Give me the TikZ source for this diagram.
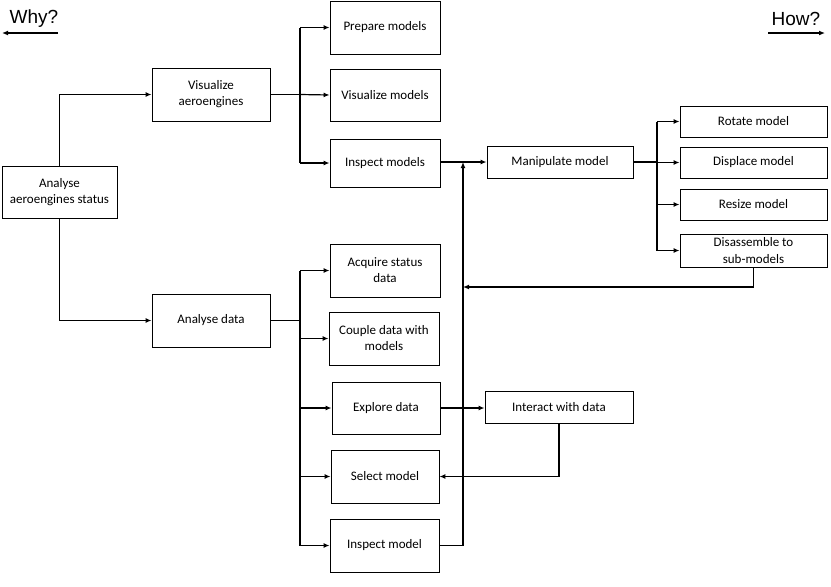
\documentclass[tikz,border=0pt]{standalone}
\usepackage{fontspec}
\setmainfont{Carlito}
\newfontfamily\arialf{Liberation Sans}
\usetikzlibrary{arrows.meta}
\begin{document}
\begin{tikzpicture}[x=1pt,y=-1pt,
  box/.style={draw=black,line width=0.9pt,fill=white,inner sep=1pt,align=center,
    font=\fontsize{13}{16}\selectfont},
  conn/.style={line width=1.2pt,draw=black},
  arr/.style={conn,-{Latex[length=6pt,width=5pt]}},
  hdr/.style={font=\arialf\fontsize{19}{22}\selectfont,inner sep=0pt}]
\useasboundingbox (0,0) rectangle (831,587);
% nodes
\node[box,minimum width=115pt,minimum height=52pt] (status) at (59.5,192) {Analyse\\aeroengines status};
\node[box,minimum width=118pt,minimum height=53pt] (visA) at (211,94.5) {Visualize\\aeroengines};
\node[box,minimum width=118pt,minimum height=53pt] (anad) at (211,320.5) {Analyse data};
\node[box,minimum width=110pt,minimum height=53pt] (prep) at (385,27.5) {Prepare models};
\node[box,minimum width=110pt,minimum height=52pt] (vism) at (385,95) {Visualize models};
\node[box,minimum width=110pt,minimum height=48pt] (insps) at (385,163) {Inspect models};
\node[box,minimum width=146pt,minimum height=32pt] (manip) at (560,162) {Manipulate model};
\node[box,minimum width=147pt,minimum height=31pt] (rot) at (753.5,121.5) {Rotate model};
\node[box,minimum width=147pt,minimum height=31pt] (disp) at (753.5,162.5) {Displace model};
\node[box,minimum width=147pt,minimum height=31pt] (resz) at (753.5,204.5) {Resize model};
\node[box,minimum width=147pt,minimum height=33pt,font=\fontsize{13}{16.5}\selectfont,inner sep=0pt] (disas) at (753.5,250.5) {Disassemble to\\sub-models};
\node[box,minimum width=110pt,minimum height=53pt] (acq) at (385,270.5) {Acquire status\\data};
\node[box,minimum width=110pt,minimum height=53pt] (coup) at (384,338.5) {Couple data with\\models};
\node[box,minimum width=108pt,minimum height=52pt] (expl) at (386,408) {Explore data};
\node[box,minimum width=108pt,minimum height=53pt] (sel) at (385,476.5) {Select model};
\node[box,minimum width=109pt,minimum height=53pt] (inspm) at (384.5,545.5) {Inspect model};
\node[box,minimum width=148pt,minimum height=32pt] (inter) at (559,407) {Interact with data};
\node[hdr] (why) at (34,19) {Why?};
\node[hdr] (how) at (796,19) {How?};
% coordinates
\coordinate (whyR) at (58,33);
\coordinate (whyL) at (2,33);
\coordinate (howL) at (768,33);
\coordinate (howR) at (825,33);
\coordinate (ub) at (300,0);
\coordinate (lb) at (300,0);
\coordinate (rb) at (657,0);
\coordinate (vx) at (463,287);
% connectors
\draw[arr] (whyR) -- (whyL);
\draw[arr] (howL) -- (howR);
\draw[arr] (status.north) |- (visA.west);
\draw[arr] (status.south) |- (anad.west);
\draw[line width=0.8pt] (visA.east) -- (ub |- visA.east);
\draw[arr] (ub |- visA.east) -- (vism.west);
\draw[conn] (ub |- prep.west) -- (ub |- insps.west);
\draw[arr] (ub |- prep.west) -- (prep.west);
\draw[arr] (ub |- insps.west) -- (insps.west);
\draw[arr] (insps.east |- manip.west) -- (manip.west);
\draw[conn] (manip.east) -- (rb |- manip.east);
\draw[conn] (rb |- rot.west) -- (rb |- disas.west);
\draw[arr] (rb |- rot.west) -- (rot.west);
\draw[arr] (rb |- disp.west) -- (disp.west);
\draw[arr] (rb |- resz.west) -- (resz.west);
\draw[arr] (rb |- disas.west) -- (disas.west);
\draw[arr] (disas.south) |- (vx);
\draw[arr] (inspm.east) -| (vx |- manip.west);
\draw[conn] (anad.east) -- (lb |- anad.east);
\draw[conn] (lb |- acq.west) -- (lb |- inspm.west);
\draw[arr] (lb |- acq.west) -- (acq.west);
\draw[arr] (lb |- coup.west) -- (coup.west);
\draw[arr] (lb |- expl.west) -- (expl.west);
\draw[arr] (lb |- sel.west) -- (sel.west);
\draw[arr] (lb |- inspm.west) -- (inspm.west);
\draw[arr] (expl.east) -- (expl.east -| inter.west);
\draw[arr] (inter.south) |- (sel.east);
\end{tikzpicture}
\end{document}
